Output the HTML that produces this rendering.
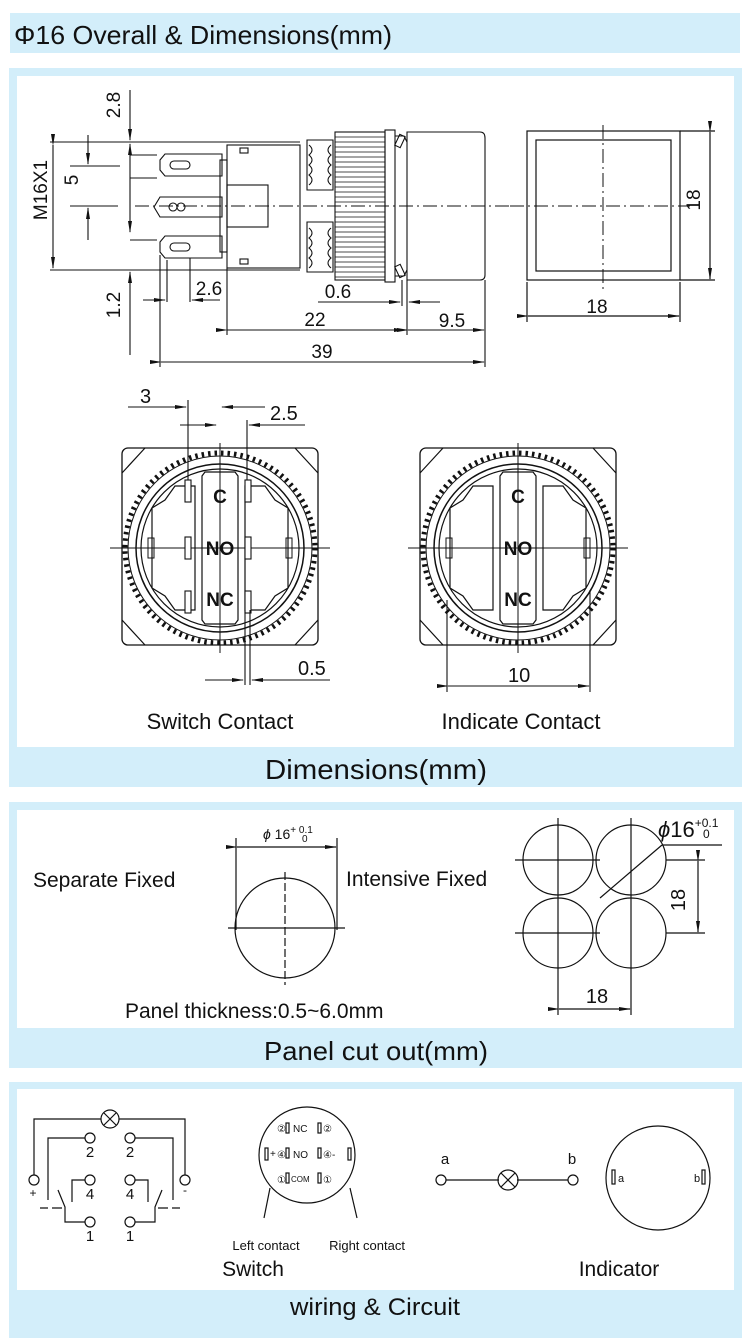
<!DOCTYPE html>
<html><head><meta charset="utf-8"><style>
html,body{margin:0;padding:0;background:#fff;}
svg{display:block;}
text{font-family:"Liberation Sans",Arial,sans-serif;fill:#111;}
</style></head><body>
<svg width="750" height="1338" viewBox="0 0 750 1338" xmlns="http://www.w3.org/2000/svg">
<defs>
<marker id="ar" markerWidth="12" markerHeight="6" refX="11" refY="3" orient="auto" markerUnits="userSpaceOnUse"><path d="M0,1 L12,3 L0,5 Z" fill="#111"/></marker>
<g id="face">
  <rect x="-98" y="-100" width="196" height="197" rx="6" fill="none" stroke="#111" stroke-width="1.3"/>
  <path d="M-98,-75 L-75,-100 M98,-75 L75,-100 M-98,72 L-75,97 M98,72 L75,97" stroke="#111" stroke-width="1.2" fill="none"/>
  <circle r="95" fill="#fff" stroke="#111" stroke-width="5" stroke-dasharray="2.5 4"/>
  <circle r="92" fill="#fff" stroke="#111" stroke-width="1"/>
  <circle r="84" fill="none" stroke="#111" stroke-width="1.5"/>
  <circle r="79" fill="none" stroke="#111" stroke-width="1.2"/>
  <path d="M-15,-76 L15,-76 L18,-72 L18,72 L15,76 L-15,76 L-18,72 L-18,-72 Z" fill="none" stroke="#111" stroke-width="1.2"/>
  <path d="M-45,-62 L-25,-62 L-25,62 L-45,62 L-55,48 L-68,40 L-68,-40 L-55,-48 Z" fill="none" stroke="#111" stroke-width="1.2"/>
  <path d="M45,-62 L25,-62 L25,62 L45,62 L55,48 L68,40 L68,-40 L55,-48 Z" fill="none" stroke="#111" stroke-width="1.2"/>
  <rect x="-72" y="-10" width="6" height="20" fill="none" stroke="#111"/>
  <rect x="66" y="-10" width="6" height="20" fill="none" stroke="#111"/>
  <line x1="-110" y1="0" x2="110" y2="0" stroke="#111" stroke-width="1"/>
  <line x1="0" y1="-105" x2="0" y2="105" stroke="#111" stroke-width="1"/>
</g>
</defs>

<rect x="10" y="13" width="730" height="40" fill="#d3eefa"/>
<text x="14" y="44" font-size="26" textLength="378" lengthAdjust="spacingAndGlyphs">Φ16 Overall &amp; Dimensions(mm)</text>

<rect x="9" y="68" width="733" height="719" fill="#d3eefa"/>
<rect x="17" y="76" width="717" height="671" fill="#fff"/>
<text x="265" y="779" font-size="28" textLength="222" lengthAdjust="spacingAndGlyphs">Dimensions(mm)</text>

<rect x="9" y="802" width="733" height="266" fill="#d3eefa"/>
<rect x="17" y="810" width="717" height="218" fill="#fff"/>
<text x="264" y="1060" font-size="26" textLength="224" lengthAdjust="spacingAndGlyphs">Panel cut out(mm)</text>

<rect x="9" y="1082" width="733" height="256" fill="#d3eefa"/>
<rect x="17" y="1089" width="717" height="201" fill="#fff"/>
<text x="290" y="1315" font-size="24" textLength="170" lengthAdjust="spacingAndGlyphs">wiring &amp; Circuit</text>

<g stroke="#111" stroke-width="1.1" fill="none">
  <line x1="50" y1="142" x2="300" y2="142"/>
  <line x1="50" y1="270" x2="300" y2="270"/>
  <line x1="53" y1="145" x2="53" y2="268" marker-start="url(#ar)" marker-end="url(#ar)"/>
  <line x1="70" y1="166" x2="120" y2="166"/>
  <line x1="70" y1="206" x2="118" y2="206"/>
  <line x1="88" y1="135" x2="88" y2="164" marker-end="url(#ar)"/>
  <line x1="88" y1="240" x2="88" y2="208" marker-end="url(#ar)"/>
  <line x1="130" y1="90" x2="130" y2="140" marker-end="url(#ar)"/>
  <line x1="130" y1="355" x2="130" y2="272" marker-end="url(#ar)"/>
  <line x1="130" y1="178" x2="130" y2="144" marker-end="url(#ar)"/>
  <line x1="130" y1="178" x2="130" y2="232" marker-end="url(#ar)"/>
  <line x1="130" y1="155" x2="157" y2="155"/><line x1="130" y1="178" x2="157" y2="178"/>
  <line x1="130" y1="240" x2="157" y2="240"/>
  <line x1="135" y1="206" x2="520" y2="206" stroke-dasharray="14 4 2 4"/>
  <path d="M165,154 L222,154 L222,176 L165,176 L160,170 L160,160 Z"/>
  <rect x="170" y="161" width="20" height="8" rx="4"/>
  <path d="M160,197 L222,197 L222,217 L160,217 L154,207 Z"/>
  <circle cx="173" cy="207" r="4"/><circle cx="181" cy="207" r="4"/>
  <path d="M165,236 L222,236 L222,258 L165,258 L160,252 L160,242 Z"/>
  <rect x="170" y="243" width="20" height="8" rx="4"/>
  <rect x="227" y="145" width="73" height="123"/>
  <rect x="220" y="160" width="7" height="92"/>
  <rect x="227" y="185" width="41" height="42"/>
  <rect x="240" y="148" width="8" height="5"/><rect x="240" y="259" width="8" height="5"/>
  <path d="M307,140 L333,140 L333,190 L307,190 Z M307,222 L333,222 L333,272 L307,272 Z"/>
  <path d="M309,145 q6,5 0,10 q6,5 0,10 q6,5 0,10 q6,5 0,10 M331,145 q-6,5 0,10 q-6,5 0,10 q-6,5 0,10 q-6,5 0,10 M309,228 q6,5 0,10 q6,5 0,10 q6,5 0,10 q6,5 0,10 M331,228 q-6,5 0,10 q-6,5 0,10 q-6,5 0,10 q-6,5 0,10"/>
  <rect x="335" y="132" width="50" height="148"/>
  <path d="M335,137H385M335,142H385M335,147H385M335,152H385M335,157H385M335,162H385M335,167H385M335,172H385M335,177H385M335,182H385M335,187H385M335,192H385M335,197H385M335,202H385M335,212H385M335,217H385M335,222H385M335,227H385M335,232H385M335,237H385M335,242H385M335,247H385M335,252H385M335,257H385M335,262H385M335,267H385M335,272H385M335,277H385" stroke-width="0.8"/>
  <rect x="385" y="130" width="10" height="152"/>
  <path d="M395,136 L404,136 L407,142 M395,276 L404,276 L407,270"/>
  <rect x="397" y="135" width="6" height="12" transform="rotate(25 400 141)"/>
  <rect x="397" y="265" width="6" height="12" transform="rotate(-25 400 271)"/>
  <path d="M407,132 L480,132 Q485,132 485,138 L485,275 Q485,280 480,280 L407,280 Z"/>
  <line x1="160" y1="255" x2="160" y2="367"/>
  <line x1="167" y1="260" x2="167" y2="302"/>
  <line x1="190" y1="258" x2="190" y2="302"/>
  <line x1="143" y1="300" x2="165" y2="300" marker-end="url(#ar)"/>
  <line x1="220" y1="300" x2="192" y2="300" marker-end="url(#ar)"/>
  <line x1="227" y1="268" x2="227" y2="335"/>
  <line x1="407" y1="280" x2="407" y2="335"/>
  <line x1="402" y1="280" x2="402" y2="306"/>
  <line x1="485" y1="280" x2="485" y2="367"/>
  <line x1="318" y1="302" x2="400" y2="302" marker-end="url(#ar)"/>
  <line x1="440" y1="302" x2="409" y2="302" marker-end="url(#ar)"/>
  <line x1="227" y1="330" x2="405" y2="330" marker-start="url(#ar)" marker-end="url(#ar)"/>
  <line x1="408" y1="330" x2="484" y2="330" marker-start="url(#ar)" marker-end="url(#ar)"/>
  <line x1="161" y1="362" x2="484" y2="362" marker-start="url(#ar)" marker-end="url(#ar)"/>
</g>
<g font-size="19">
<text x="57" y="200" transform="rotate(-90 47 200)" text-anchor="middle">M16X1</text>
<text x="83" y="185" transform="rotate(-90 78 185)" text-anchor="middle">5</text>
<text x="127" y="112" transform="rotate(-90 120 112)" text-anchor="middle">2.8</text>
<text x="127" y="312" transform="rotate(-90 120 312)" text-anchor="middle">1.2</text>
<text x="209" y="295" text-anchor="middle">2.6</text>
<text x="338" y="298" text-anchor="middle">0.6</text>
<text x="315" y="326" text-anchor="middle">22</text>
<text x="452" y="327" text-anchor="middle">9.5</text>
<text x="322" y="358" text-anchor="middle">39</text>
<text x="597" y="313" text-anchor="middle">18</text>
<text x="707" y="207" transform="rotate(-90 700 207)" text-anchor="middle">18</text>
</g>
<g stroke="#111" fill="none" stroke-width="1.2">
  <rect x="527" y="131" width="153" height="149"/>
  <rect x="536" y="140" width="135" height="131"/>
  <line x1="510" y1="206" x2="690" y2="206" stroke-dasharray="14 4 2 4" stroke-width="1"/>
  <line x1="603" y1="125" x2="603" y2="290" stroke-dasharray="14 4 2 4" stroke-width="1"/>
  <line x1="680" y1="131" x2="715" y2="131"/><line x1="680" y1="280" x2="715" y2="280"/>
  <line x1="710" y1="132" x2="710" y2="279" marker-start="url(#ar)" marker-end="url(#ar)"/>
  <line x1="527" y1="282" x2="527" y2="322"/><line x1="680" y1="282" x2="680" y2="322"/>
  <line x1="528" y1="316" x2="679" y2="316" marker-start="url(#ar)" marker-end="url(#ar)"/>
</g>

<use href="#face" x="220" y="548"/>
<use href="#face" x="518" y="548"/>
<g stroke="#111" fill="#fff" stroke-width="1.1">
  <rect x="185" y="480" width="6" height="22"/><rect x="245" y="480" width="6" height="22"/>
  <rect x="185" y="537" width="6" height="22"/><rect x="245" y="537" width="6" height="22"/>
  <rect x="185" y="591" width="6" height="22"/><rect x="245" y="591" width="6" height="22"/>
</g>
<g stroke="#111" fill="none" stroke-width="1.1">
  <line x1="188" y1="400" x2="188" y2="480"/>
  <line x1="247" y1="420" x2="247" y2="480"/>
  <line x1="128" y1="407" x2="186" y2="407" marker-end="url(#ar)"/>
  <line x1="265" y1="407" x2="222" y2="407" marker-end="url(#ar)"/>
  <line x1="180" y1="425" x2="216" y2="425" marker-end="url(#ar)"/>
  <line x1="305" y1="425" x2="249" y2="425" marker-end="url(#ar)"/>
  <line x1="245" y1="610" x2="245" y2="685"/><line x1="250" y1="610" x2="250" y2="685"/>
  <line x1="205" y1="680" x2="243" y2="680" marker-end="url(#ar)"/>
  <line x1="330" y1="680" x2="252" y2="680" marker-end="url(#ar)"/>
  <line x1="447" y1="600" x2="447" y2="692"/><line x1="590" y1="590" x2="590" y2="692"/>
  <line x1="448" y1="686" x2="589" y2="686" marker-start="url(#ar)" marker-end="url(#ar)"/>
</g>
<g font-size="19" font-weight="bold" text-anchor="middle">
<text x="220" y="503">C</text><text x="220" y="555">NO</text><text x="220" y="606">NC</text>
<text x="518" y="503">C</text><text x="518" y="555">NO</text><text x="518" y="606">NC</text>
</g>
<g font-size="20">
<text x="140" y="403">3</text><text x="270" y="420">2.5</text>
<text x="298" y="675">0.5</text><text x="508" y="682">10</text>
</g>
<text x="220" y="729" font-size="22" text-anchor="middle">Switch Contact</text>
<text x="521" y="729" font-size="22" text-anchor="middle">Indicate Contact</text>

<text x="33" y="887" font-size="21">Separate Fixed</text>
<text x="346" y="886" font-size="21">Intensive Fixed</text>
<text x="125" y="1018" font-size="21">Panel thickness:0.5~6.0mm</text>
<g stroke="#111" fill="none" stroke-width="1.2">
  <circle cx="285" cy="928" r="50"/>
  <line x1="228" y1="928" x2="345" y2="928"/>
  <line x1="285" y1="872" x2="285" y2="985" stroke-dasharray="8 3"/>
  <line x1="236" y1="838" x2="236" y2="930"/><line x1="337" y1="838" x2="337" y2="930"/>
  <line x1="237" y1="847" x2="336" y2="847" marker-start="url(#ar)" marker-end="url(#ar)"/>
  <circle cx="558" cy="860" r="35"/><circle cx="631" cy="860" r="35"/>
  <circle cx="558" cy="933" r="35"/><circle cx="631" cy="933" r="35"/>
  <line x1="515" y1="860" x2="600" y2="860"/><line x1="515" y1="933" x2="600" y2="933"/>
  <line x1="558" y1="818" x2="558" y2="1015"/><line x1="631" y1="818" x2="631" y2="1015"/>
  <line x1="600" y1="898" x2="662" y2="845"/><line x1="662" y1="845" x2="722" y2="845"/>
  <line x1="666" y1="860" x2="705" y2="860"/><line x1="666" y1="933" x2="705" y2="933"/>
  <line x1="698" y1="861" x2="698" y2="932" marker-start="url(#ar)" marker-end="url(#ar)"/>
  <line x1="559" y1="1009" x2="630" y2="1009" marker-start="url(#ar)" marker-end="url(#ar)"/>
</g>
<text x="263" y="839" font-size="14"><tspan font-style="italic">ϕ</tspan> 16<tspan font-size="10" dy="-6">+ 0.1</tspan></text>
<text x="302" y="842" font-size="10">0</text>
<text x="658" y="837" font-size="22"><tspan font-style="italic">ϕ</tspan>16<tspan font-size="12" dy="-10">+0.1</tspan></text>
<text x="703" y="838" font-size="12">0</text>
<text x="692" y="907" font-size="20" transform="rotate(-90 685 907)" text-anchor="middle">18</text>
<text x="597" y="1003" font-size="20" text-anchor="middle">18</text>

<g stroke="#111" fill="none" stroke-width="1.2">
  <path d="M34,1175 V1119 H101 M119,1119 H185 V1175"/>
  <circle cx="110" cy="1119" r="9"/>
  <path d="M104,1113 L116,1125 M116,1113 L104,1125"/>
  <circle cx="34" cy="1180" r="5"/><circle cx="185" cy="1180" r="5"/>
  <circle cx="90" cy="1138" r="5"/><circle cx="130" cy="1138" r="5"/>
  <circle cx="90" cy="1180" r="5"/><circle cx="130" cy="1180" r="5"/>
  <circle cx="90" cy="1222" r="5"/><circle cx="130" cy="1222" r="5"/>
  <path d="M85,1138 H48 V1200 M135,1138 H173 V1200"/>
  <path d="M85,1180 H72 V1202 M135,1180 H148 V1202"/>
  <path d="M85,1222 H65 V1207 L58,1190 M135,1222 H155 V1207 L162,1190"/>
  <path d="M40,1208 H48 M52,1208 H62 M158,1208 H168 M172,1208 H180"/>
  <circle cx="307" cy="1155" r="48"/>
  <line x1="270" y1="1188" x2="264" y2="1218"/><line x1="350" y1="1188" x2="357" y2="1218"/>
  <rect x="286" y="1123" width="3" height="10"/><rect x="318" y="1123" width="3" height="10"/>
  <rect x="265" y="1148" width="3" height="12"/><rect x="286" y="1148" width="3" height="10"/><rect x="318" y="1148" width="3" height="10"/><rect x="348" y="1148" width="3" height="12"/>
  <rect x="286" y="1173" width="3" height="10"/><rect x="318" y="1173" width="3" height="10"/>
  <line x1="446" y1="1180" x2="499" y2="1180"/><line x1="517" y1="1180" x2="568" y2="1180"/>
  <circle cx="441" cy="1180" r="5"/><circle cx="573" cy="1180" r="5"/>
  <circle cx="508" cy="1180" r="10"/>
  <path d="M501,1173 L515,1187 M515,1173 L501,1187"/>
  <circle cx="658" cy="1178" r="52"/>
  <rect x="612" y="1170" width="3" height="14"/><rect x="702" y="1170" width="3" height="14"/>
</g>
<g font-size="15" text-anchor="middle">
<text x="90" y="1157">2</text><text x="130" y="1157">2</text>
<text x="90" y="1199">4</text><text x="130" y="1199">4</text>
<text x="90" y="1241">1</text><text x="130" y="1241">1</text>
<text x="33" y="1197" font-size="12">+</text><text x="185" y="1194" font-size="12">-</text>
</g>
<g font-size="10">
<text x="277" y="1132">②</text><text x="293" y="1132">NC</text><text x="323" y="1132">②</text>
<text x="270" y="1157">+</text><text x="277" y="1158">④</text><text x="293" y="1158">NO</text><text x="323" y="1158">④-</text>
<text x="277" y="1183">①</text><text x="291" y="1182" font-size="8">COM</text><text x="323" y="1183">①</text>
</g>
<text x="266" y="1250" font-size="13" text-anchor="middle">Left contact</text>
<text x="367" y="1250" font-size="13" text-anchor="middle">Right contact</text>
<text x="253" y="1276" font-size="21" text-anchor="middle">Switch</text>
<text x="445" y="1164" font-size="15" text-anchor="middle">a</text>
<text x="572" y="1164" font-size="15" text-anchor="middle">b</text>
<text x="618" y="1182" font-size="11">a</text>
<text x="694" y="1182" font-size="11">b</text>
<text x="619" y="1276" font-size="21" text-anchor="middle">Indicator</text>
</svg>
</body></html>
